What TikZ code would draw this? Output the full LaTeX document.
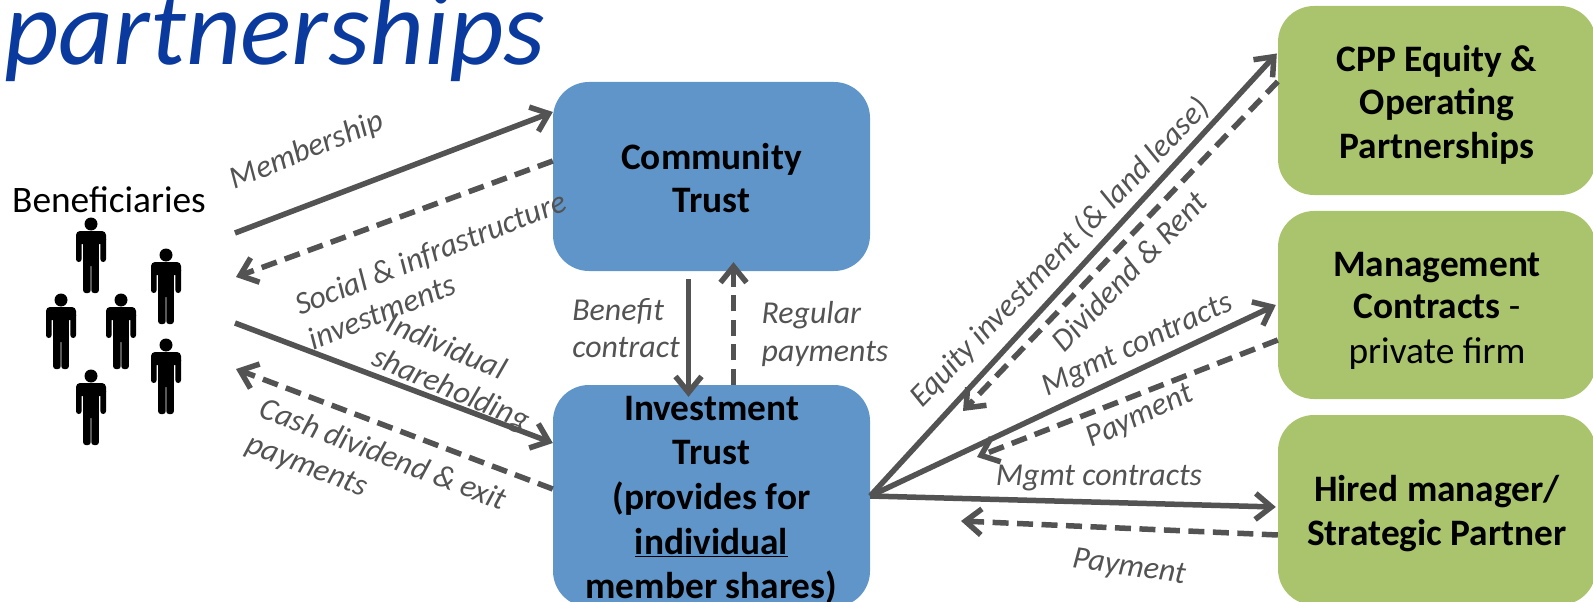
\documentclass[tikz,border=0pt]{standalone}
\usepackage{fontspec}
\setmainfont{Carlito}
\usetikzlibrary{arrows.meta}
\definecolor{boxblue}{HTML}{6095C9}
\definecolor{boxgreen}{HTML}{A9C46C}
\definecolor{linegray}{HTML}{535353}
\definecolor{titleblue}{HTML}{0B3A9E}
\newcommand{\fs}[1]{\fontsize{#1}{#1}\selectfont}
\newcommand{\tup}[1]{\rule{0pt}{#1bp}}
\tikzset{
  x=1bp,y=-1bp,
  boxbase/.style={rectangle,rounded corners=36bp,inner sep=0pt,align=center,font=\fs{37.5}\bfseries,text=black,minimum width=317bp},
  bluebox/.style={boxbase,fill=boxblue},
  greenbox/.style={boxbase,fill=boxgreen,minimum width=318bp},
  flow/.style={draw=linegray,line width=5.5bp,-{Straight Barb[length=16bp,width=26bp,line width=5.5bp]}},
  solidflow/.style={flow},
  dashflow/.style={flow,dash pattern=on 16bp off 8.5bp},
  lab/.style={font=\fs{32}\itshape,text=linegray,inner sep=0pt},
  persona/.pic={
    \fill (0,0) circle[radius=6.5];
    \fill[rounded corners=4bp] (-15,7) rectangle (15,20);
    \fill[rounded corners=2.8bp] (-15,12) rectangle (-9.4,38);
    \fill[rounded corners=2.8bp] (9.4,12) rectangle (15,38);
    \fill[rounded corners=3bp] (-7.8,7) rectangle (7.8,42);
    \fill[rounded corners=2.5bp] (-7.8,30) rectangle (-0.4,69);
    \fill[rounded corners=2.5bp] (0.4,30) rectangle (7.8,69);
  }
}
\begin{document}
\begin{tikzpicture}
\clip (0,0) rectangle (1593,602);
\node[inner sep=0pt,anchor=base west,font=\fs{107}\itshape,text=titleblue] (title) at (4,65) {partnerships};
\node[inner sep=0pt,font=\fs{37.5}] (ben) at (109,200) {Beneficiaries};
\foreach \px/\py in {91/224,166/255,61/300,121/300,166/345,91/376}
  \pic at (\px,\py) {persona};

\node[bluebox,minimum height=189bp] (comm) at (711.5,176.5) {\tup{29}Community\\[5.5bp]Trust};
\node[bluebox,minimum height=222bp] (inv) at (711.5,496) {\tup{35}Investment\\[6.5bp]Trust\\[8bp](provides for\\[7bp]\underline{individual}\\[7bp]\underline{member shares)}};
\node[greenbox,minimum height=189bp] (cpp) at (1437,100.5) {\tup{35}CPP Equity \&\\[5bp]Operating\\[7bp]Partnerships};
\node[greenbox,minimum height=188bp] (mgmt) at (1437,305) {\tup{36}Management\\[5bp]Contracts\textmd{ -}\\[7bp]\textmd{private firm}};
\node[greenbox,minimum height=190bp] (hire) at (1437,510) {\tup{33}Hired manager/\\[7bp]Strategic Partner};

\coordinate (b1) at (235,233);
\coordinate (b2) at (236,277);
\coordinate (b3) at (235,323);
\coordinate (b4) at (236,369);
\coordinate (r1) at (963,411);
\coordinate (r2) at (977,457);
\coordinate (r3) at (961,521);

\draw[solidflow] (b1) -- ([yshift=64.5bp]comm.west);
\draw[dashflow] ([yshift=15.5bp]comm.west) -- (b2);
\draw[solidflow] (b3) -- ([yshift=53bp]inv.west);
\draw[dashflow] ([yshift=7bp]inv.west) -- (b4);
\draw[solidflow] ([xshift=-23bp,yshift=-8bp]comm.south) -- ([xshift=-23bp,yshift=-12bp]inv.north);
\draw[dashflow] ([xshift=22bp]inv.north) -- ([xshift=22bp,yshift=9bp]comm.south);
\draw[solidflow] (inv.east) -- ([xshift=-1bp,yshift=47bp]cpp.west);
\draw[dashflow] ([yshift=19bp]cpp.west) -- (r1);
\draw[solidflow] (inv.east) -- ([xshift=-2bp]mgmt.west);
\draw[dashflow] ([yshift=-35bp]mgmt.west) -- (r2);
\draw[solidflow] (inv.east) -- ([xshift=-2bp,yshift=3bp]hire.west);
\draw[dashflow] ([yshift=-25bp]hire.west) -- (r3);

\node[lab,rotate=22] (l1) at (307,151) {Membership};
\node[lab,rotate=21.5,align=left] (l2) at (437,270) {Social \& infrastructure\\[5bp]investments};
\node[lab,rotate=-23,align=left] (l3) at (458,373) {Individual\\[5bp]shareholding};
\node[lab,rotate=-21,align=left] (l4) at (376,473) {Cash dividend \& exit\\[5bp]payments};
\node[lab,align=left] (l5) at (626,328) {Benefit\\[5bp]contract};
\node[lab,align=left] (l6) at (825,334) {Regular\\[6bp]payments};
\node[lab,rotate=46] (l7) at (1060,253) {Equity investment (\& land lease)};
\node[lab,rotate=46] (l8) at (1129,271) {Dividend \& Rent};
\node[lab,rotate=25] (l9) at (1138,346) {Mgmt contracts};
\node[lab,rotate=25] (l10) at (1140,417) {Payment};
\node[lab] (l11) at (1099,478) {Mgmt contracts};
\node[lab,rotate=-8] (l12) at (1129,568) {Payment};
\end{tikzpicture}
\end{document}
